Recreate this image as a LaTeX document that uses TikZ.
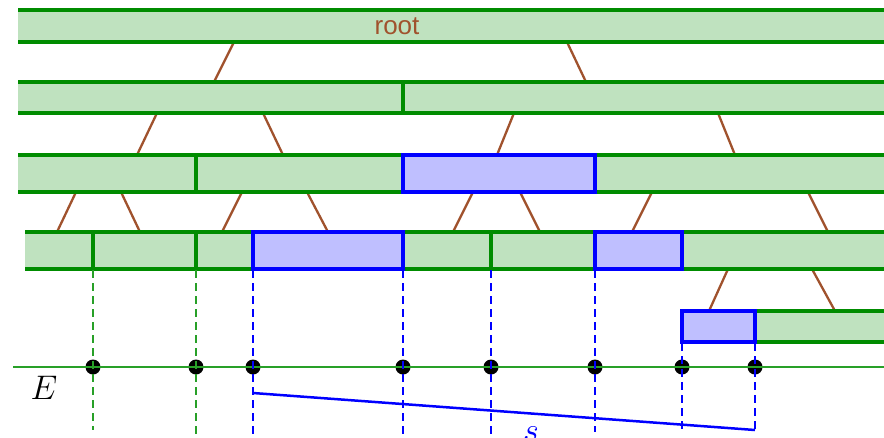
\documentclass[tikz,border=0pt]{standalone}
\usepackage{fontspec}
\setsansfont{Liberation Sans}
\definecolor{bandfill}{RGB}{191,226,191}
\definecolor{bandgreen}{RGB}{0,140,0}
\definecolor{qfill}{RGB}{191,191,255}
\definecolor{linkbrown}{RGB}{160,82,45}
\definecolor{guidegreen}{RGB}{40,160,40}

\begin{document}
\begin{tikzpicture}[x=1pt,y=-1pt]
	\tikzstyle{band}=[fill=bandfill]
	\tikzstyle{bandline}=[draw=bandgreen, line width=3.2pt]
	\tikzstyle{qbox}=[fill=qfill, draw=blue, line width=3.2pt]
	\tikzstyle{link}=[draw=linkbrown, line width=2.3pt]
	\tikzstyle{endpt}=[circle, fill=black, inner sep=0pt, minimum size=15pt]
	\tikzstyle{drop}=[dash pattern=on 8pt off 5pt, line width=1.7pt]
	\tikzstyle{lbl}=[inner sep=0pt, font=\Huge, scale=1.37]

	\clip (0,0) rectangle (884,437);

	% tree links, parent bottom -> child top
	\coordinate (p1) at (234,42);	\coordinate (c1) at (214,82);
	\coordinate (p2) at (567,42);	\coordinate (c2) at (586,82);
	\coordinate (p3) at (157,113);	\coordinate (c3) at (137,155);
	\coordinate (p4) at (263,113);	\coordinate (c4) at (283,155);
	\coordinate (p5) at (514,113);	\coordinate (c5) at (497,155);
	\coordinate (p6) at (718,113);	\coordinate (c6) at (735,155);
	\coordinate (p7) at (76,192);	\coordinate (c7) at (57,232);
	\coordinate (p8) at (121,192);	\coordinate (c8) at (140,232);
	\coordinate (p9) at (242,192);	\coordinate (c9) at (222,232);
	\coordinate (p10) at (307,192);	\coordinate (c10) at (328,232);
	\coordinate (p11) at (473,192);	\coordinate (c11) at (453,232);
	\coordinate (p12) at (520,192);	\coordinate (c12) at (540,232);
	\coordinate (p13) at (652,192);	\coordinate (c13) at (632,232);
	\coordinate (p14) at (808,192);	\coordinate (c14) at (828,232);
	\coordinate (p15) at (728,269);	\coordinate (c15) at (709,311);
	\coordinate (p16) at (812,269);	\coordinate (c16) at (835,311);

	\draw[link] (p1) -- (c1);
	\draw[link] (p2) -- (c2);
	\draw[link] (p3) -- (c3);
	\draw[link] (p4) -- (c4);
	\draw[link] (p5) -- (c5);
	\draw[link] (p6) -- (c6);
	\draw[link] (p7) -- (c7);
	\draw[link] (p8) -- (c8);
	\draw[link] (p9) -- (c9);
	\draw[link] (p10) -- (c10);
	\draw[link] (p11) -- (c11);
	\draw[link] (p12) -- (c12);
	\draw[link] (p13) -- (c13);
	\draw[link] (p14) -- (c14);
	\draw[link] (p15) -- (c15);
	\draw[link] (p16) -- (c16);

	% level 0
	\fill[band] (18,10) rectangle (890,42);
	\draw[bandline] (18,10) -- (890,10) (18,42) -- (890,42);
	\node[font=\sffamily\fontsize{26}{30}\selectfont, text=linkbrown] (root) at (397,26) {root};

	% level 1
	\fill[band] (18,82) rectangle (890,113);
	\draw[bandline] (18,82) -- (890,82) (18,113) -- (890,113);
	\draw[bandline] (403,82) -- (403,113);

	% level 2
	\fill[band] (18,155) rectangle (890,192);
	\draw[bandline] (18,155) -- (890,155) (18,192) -- (890,192);
	\draw[bandline] (196,155) -- (196,192);
	\draw[qbox] (403,155) rectangle (595,192);

	% level 3
	\fill[band] (25,232) rectangle (890,269);
	\draw[bandline] (25,232) -- (890,232) (25,269) -- (890,269);
	\draw[bandline] (93,232) -- (93,269);
	\draw[bandline] (196,232) -- (196,269);
	\draw[bandline] (491,232) -- (491,269);
	\draw[qbox] (253,232) rectangle (403,269);
	\draw[qbox] (595,232) rectangle (682,269);

	% level 4
	\fill[band] (682,311) rectangle (890,342);
	\draw[bandline] (682,311) -- (890,311) (682,342) -- (890,342);
	\draw[qbox] (682,311) rectangle (755,342);

	% endpoints on E
	\node[endpt] (e1) at (93,367) {};
	\node[endpt] (e2) at (196,367) {};
	\node[endpt] (e3) at (253,367) {};
	\node[endpt] (e4) at (403,367) {};
	\node[endpt] (e5) at (491,367) {};
	\node[endpt] (e6) at (595,367) {};
	\node[endpt] (e7) at (682,367) {};
	\node[endpt] (e8) at (755,367) {};

	\coordinate (Eleft) at (13,367);
	\coordinate (Eright) at (890,367);
	\draw[guidegreen, line width=1.5pt] (Eleft) -- (Eright);
	\node[lbl, anchor=base] (E) at (44,399) {$E$};

	\draw[drop, guidegreen] (e1 |- 0,270) -- (e1 |- 0,430);
	\draw[drop, guidegreen] (e2 |- 0,270) -- (e2 |- 0,440);
	\draw[drop, blue] (e3 |- 0,270) -- (e3 |- 0,440);
	\draw[drop, blue] (e4 |- 0,270) -- (e4 |- 0,440);
	\draw[drop, blue] (e5 |- 0,270) -- (e5 |- 0,440);
	\draw[drop, blue] (e6 |- 0,270) -- (e6 |- 0,432);
	\draw[drop, blue] (e7 |- 0,343) -- (e7 |- 0,432);
	\draw[drop, blue] (e8 |- 0,343) -- (e8 |- 0,430);

	% the span s
	\coordinate (sL) at (253,393);
	\coordinate (sR) at (755,430);
	\draw[blue, line width=2.5pt] (sL) -- (sR);
	\node[lbl, anchor=base, text=blue] (s) at (531,441) {$s$};
\end{tikzpicture}
\end{document}
